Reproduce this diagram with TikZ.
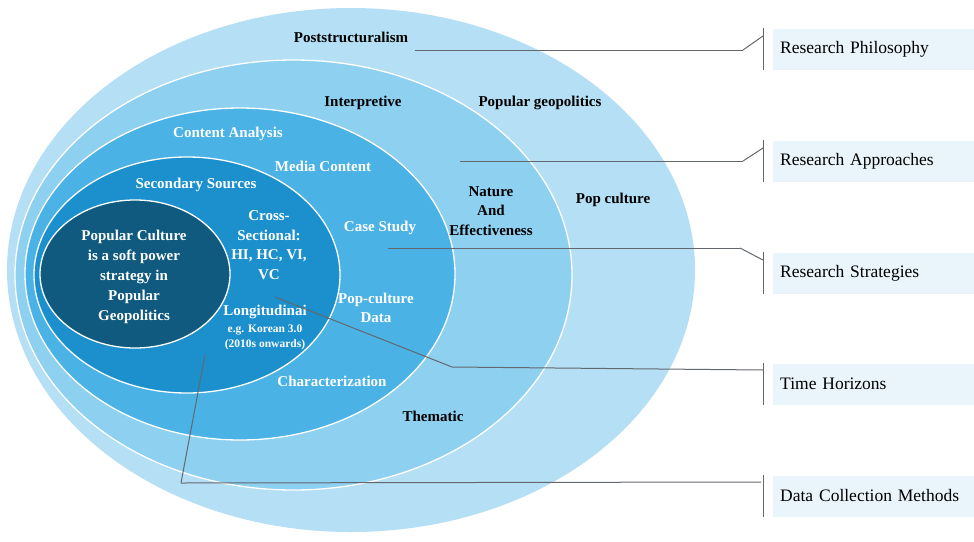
\documentclass[tikz,border=0pt]{standalone}
\usepackage{fontspec}
\setmainfont{Liberation Serif}
\usetikzlibrary{positioning}

\definecolor{ringA}{HTML}{B5DFF4}
\definecolor{ringB}{HTML}{8ED0F0}
\definecolor{ringC}{HTML}{4BB2E5}
\definecolor{ringD}{HTML}{1B90CC}
\definecolor{ringE}{HTML}{0F5A7E}
\definecolor{tagfill}{HTML}{EAF4FB}
\definecolor{linkgray}{HTML}{62686E}

\begin{document}
\begin{tikzpicture}[x=1pt,y=-1pt]
    \tikzset{ring/.style={draw=white, line width=1.3pt},
             dark/.style={font=\fontsize{15}{19.5}\selectfont\bfseries, text=black, align=center},
             light/.style={font=\fontsize{15}{19.5}\selectfont\bfseries, text=white, align=center},
             small/.style={font=\fontsize{11.5}{15}\selectfont\bfseries, text=white, align=center},
             tag/.style={fill=tagfill, anchor=west, text width=190pt, align=left, inner xsep=7pt,
                         minimum height=41pt, font=\fontsize{17.5}{20}\selectfont},
             link/.style={draw=linkgray, line width=1pt},}

    \useasboundingbox (0,0) rectangle (974,541);

    % soft shadow below the rings, darker towards the bottom
    \foreach \y/\c in {526/8,529/14,532/20,535/26,538/32}
        \shade[left color=white, middle color=gray!\c, right color=white]
            (20,\y) rectangle (700,\y+3);

    % rings, outside in
    \fill[ringA] (351,270) ellipse [x radius=344pt, y radius=262pt];
    \filldraw[ring, fill=ringB] (293.5,275) ellipse [x radius=278.5pt, y radius=215pt];
    \filldraw[ring, fill=ringC] (240,274) ellipse [x radius=215pt, y radius=166pt];
    \filldraw[ring, fill=ringD] (187,275) ellipse [x radius=153pt, y radius=118pt];
    \filldraw[ring, fill=ringE] (135,274) ellipse [x radius=95pt, y radius=74pt];

    \node [dark] (post) at (351,37) {Poststructuralism};
    \node [dark] (interp) at (363,103) {Interpretive};
    \node [dark] (popgeo) at (540,103) {Popular geopolitics};
    \node [dark] (nature) at (491,211) {Nature\\And\\Effectiveness};
    \node [dark] (popcult) at (613,200) {Pop culture};
    \node [dark] (thematic) at (433,416) {Thematic};

    \node [light] (content) at (228,134) {Content Analysis};
    \node [light] (media) at (323,166) {Media Content};
    \node [light] (case) at (380,228) {Case Study};
    \node [light] (popdata) at (376,308) {Pop-culture\\Data};
    \node [light] (charac) at (332,381) {Characterization};
    \node [light] (secsrc) at (196,185) {Secondary Sources};
    \node [light] (cross) at (269,245) {Cross-\\Sectional:\\HI, HC, VI,\\VC};
    \node [light] (longi) at (265,312) {Longitudinai};
    \node [small, below=-1pt of longi] (korean) {e.g. Korean 3.0\\(2010s onwards)};
    \node [light, font=\fontsize{15}{20}\selectfont\bfseries] (core) at (134,277)
          {Popular Culture\\is a soft power\\strategy in\\Popular\\Geopolitics};

    \node [tag] (phil) at (773,49) {Research Philosophy};
    \node [tag] (appr) at (773,161) {Research Approaches};
    \node [tag] (strat) at (773,273) {Research Strategies};
    \node [tag] (time) at (773,384) {Time Horizons};
    \node [tag] (data) at (773,496) {Data Collection Methods};

    % brackets in front of the tags
    \foreach \t in {phil,appr,strat,time,data}
        \draw[link] ([xshift=-10pt]\t.north west) -- ([xshift=-10pt]\t.south west);

    \coordinate (s1) at (415,50);
    \coordinate (s2) at (460,161);
    \coordinate (s3) at (388,248);
    \coordinate (s4) at (275,297);
    \coordinate (s5) at (205,355);
    \coordinate (b1) at ([xshift=-30pt]phil.west);
    \coordinate (b2) at ([xshift=-30pt]appr.west);
    \coordinate (b3) at ([xshift=-33pt]strat.west);
    \coordinate (b4) at (452,367);
    \coordinate (b5) at (181,483);

    \path[link]
        (s1) edge (s1 -| b1)
        (s1 -| b1) edge ([xshift=-10pt,yshift=13pt]phil.west)
        (s2) edge (s2 -| b2)
        (s2 -| b2) edge ([xshift=-10pt,yshift=13pt]appr.west)
        (s3) edge (s3 -| b3)
        (s3 -| b3) edge ([xshift=-10pt,yshift=13pt]strat.west)
        (s4) edge (b4)
        (b4) edge ([xshift=-10pt,yshift=14pt]time.west)
        (s5) edge (b5)
        (b5) edge ([xshift=-12pt,yshift=14pt]data.west)
        ;
\end{tikzpicture}
\end{document}
